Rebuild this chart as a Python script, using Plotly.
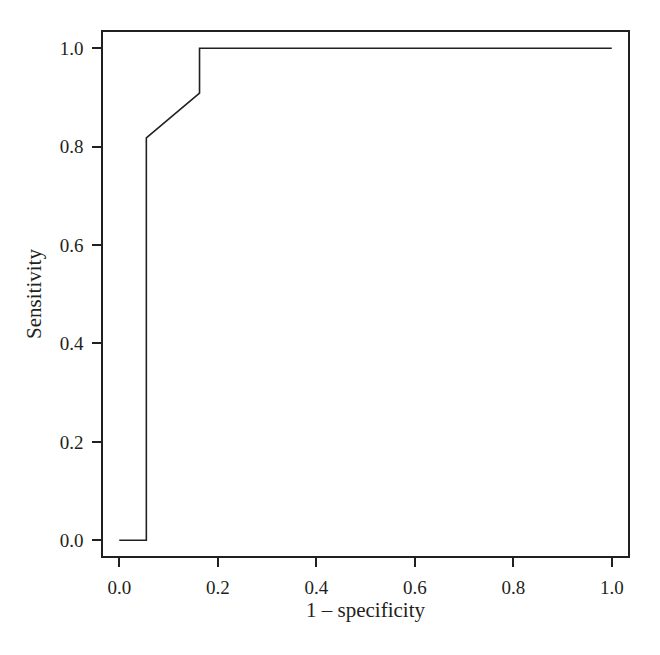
import plotly.graph_objects as go

# ROC curve data (1 - specificity, sensitivity)
fpr = [0.0, 0.055, 0.055, 0.163, 0.163, 1.0]
tpr = [0.0, 0.0, 0.818, 0.909, 1.0, 1.0]
tick_vals = [0.0, 0.2, 0.4, 0.6, 0.8, 1.0]
tick_text = ["0.0", "0.2", "0.4", "0.6", "0.8", "1.0"]

ink = "#231f20"
font_family = "Liberation Serif, DejaVu Serif, serif"

fig = go.Figure()
fig.add_trace(go.Scatter(x=fpr, y=tpr, mode="lines",
                         line=dict(color=ink, width=1.6), showlegend=False,
                         hoverinfo="skip"))

axis_common = dict(
    showline=True, mirror=True, linecolor=ink, linewidth=1.6,
    ticks="outside", ticklen=9, tickwidth=1.5, tickcolor=ink,
    showgrid=False, zeroline=False,
    tickvals=tick_vals, ticktext=tick_text,
    tickfont=dict(family=font_family, size=19, color=ink),
)

fig.update_layout(
    width=660, height=655,
    margin=dict(l=95, r=40, t=24, b=107),
    paper_bgcolor="white", plot_bgcolor="white",
    xaxis=dict(range=[-0.033, 1.033], ticklabelstandoff=4, **axis_common,
               title=dict(text="1 – specificity", standoff=2,
                          font=dict(family=font_family, size=21, color=ink))),
    yaxis=dict(range=[-0.032, 1.033], ticklabelstandoff=5, **axis_common,
               title=dict(text="Sensitivity", standoff=12,
                          font=dict(family=font_family, size=21, color=ink))),
)

fig.write_html("out.html")
